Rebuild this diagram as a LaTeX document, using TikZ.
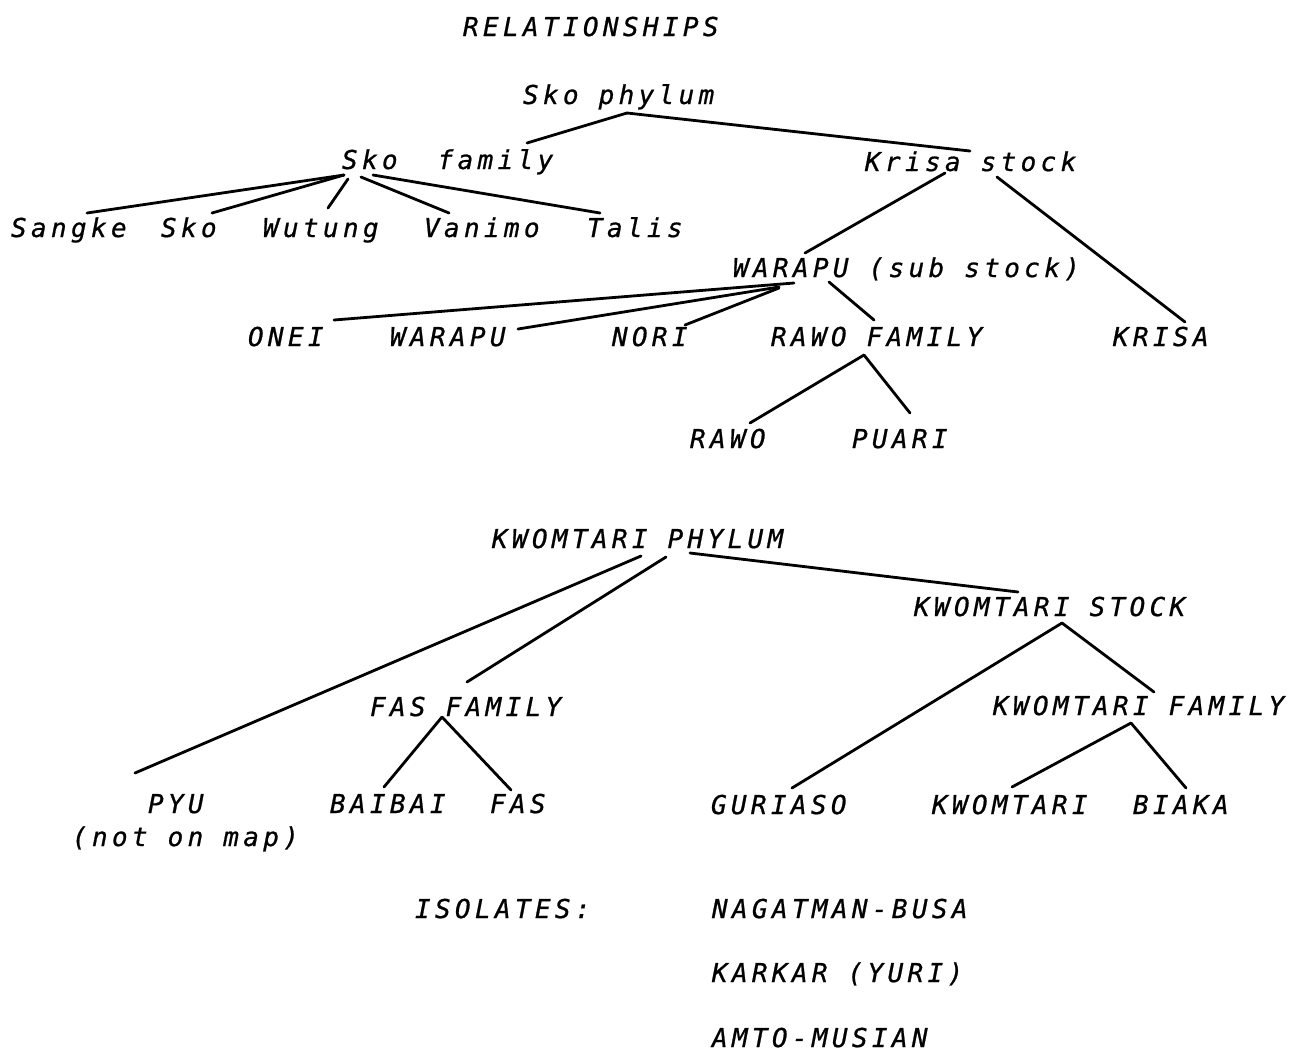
\documentclass[tikz,border=0pt]{standalone}
\usepackage{fontspec}
\newfontfamily\tw{DejaVu Sans Mono}[LetterSpace=16.7,FakeBold=0.8]
\begin{document}
\begin{tikzpicture}[x=0.5pt,y=-0.5pt,
  lbl/.style={anchor=base west,inner sep=0pt,outer sep=0pt,font=\tw\itshape\fontsize{13pt}{15pt}\selectfont},
  edge/.style={line width=1.4pt,line cap=round}]
\useasboundingbox[fill=white] (0,0) rectangle (1306,1057);
% labels
\node[lbl] (rel) at (463,36) {RELATIONSHIPS};
\node[lbl] (skophy) at (523,104) {Sko phylum};
\node[lbl] (skofam) at (342,169) {Sko\ \ family};
\node[lbl] (krisast) at (865,171) {Krisa stock};
\node[lbl] (sangke) at (11,237) {Sangke};
\node[lbl] (sko) at (161,237) {Sko};
\node[lbl] (wutung) at (263,237) {Wutung};
\node[lbl] (vanimo) at (424,237) {Vanimo};
\node[lbl] (talis) at (587,237) {Talis};
\node[lbl] (warsub) at (733,277) {WARAPU (sub stock)};
\node[lbl] (onei) at (248,346) {ONEI};
\node[lbl] (warapu) at (390,346) {WARAPU};
\node[lbl] (nori) at (612,346) {NORI};
\node[lbl] (rawofam) at (771,346) {RAWO FAMILY};
\node[lbl] (krisa) at (1113,346) {KRISA};
\node[lbl] (rawo) at (690,448) {RAWO};
\node[lbl] (puari) at (852,448) {PUARI};
\node[lbl] (kwphy) at (492,548) {KWOMTARI PHYLUM};
\node[lbl] (kwstock) at (914,616) {KWOMTARI STOCK};
\node[lbl] (fasfam) at (370,716) {FAS FAMILY};
\node[lbl] (kwfam) at (993,715) {KWOMTARI FAMILY};
\node[lbl] (pyu) at (148,813) {PYU};
\node[lbl] (notmap) at (72,846) {(not on map)};
\node[lbl] (baibai) at (330,813) {BAIBAI};
\node[lbl] (fas) at (490,813) {FAS};
\node[lbl] (guriaso) at (711,814) {GURIASO};
\node[lbl] (kwomtari) at (932,814) {KWOMTARI};
\node[lbl] (biaka) at (1133,814) {BIAKA};
\node[lbl] (isol) at (415,918) {ISOLATES:};
\node[lbl] (nag) at (712,918) {NAGATMAN-BUSA};
\node[lbl] (kar) at (712,982) {KARKAR (YURI)};
\node[lbl] (amto) at (712,1047) {AMTO-MUSIAN};
% connectors
\draw[edge] ([shift={(104,9)}]skophy.base west) -- ([shift={(185,-26)}]skofam.base west);
\draw[edge] ([shift={(104,9)}]skophy.base west) -- ([shift={(105,-20)}]krisast.base west);
\draw[edge] ([shift={(2,6)}]skofam.base west) -- ([shift={(76,-24)}]sangke.base west);
\draw[edge] ([shift={(2,6)}]skofam.base west) -- ([shift={(51,-24)}]sko.base west);
\draw[edge] ([shift={(6,10)}]skofam.base west) -- ([shift={(65,-29)}]wutung.base west);
\draw[edge] ([shift={(19,8)}]skofam.base west) -- ([shift={(25,-24)}]vanimo.base west);
\draw[edge] ([shift={(31,6)}]skofam.base west) -- ([shift={(13,-24)}]talis.base west);
\draw[edge] ([shift={(80,2)}]krisast.base west) -- ([shift={(72,-24)}]warsub.base west);
\draw[edge] ([shift={(132,6)}]krisast.base west) -- ([shift={(72,-24)}]krisa.base west);
\draw[edge] ([shift={(61,6)}]warsub.base west) -- ([shift={(86,-26)}]onei.base west);
\draw[edge] ([shift={(46,10)}]warsub.base west) -- ([shift={(128,-17)}]warapu.base west);
\draw[edge] ([shift={(46,11)}]warsub.base west) -- ([shift={(73,-21)}]nori.base west);
\draw[edge] ([shift={(96,5)}]warsub.base west) -- ([shift={(103,-26)}]rawofam.base west);
\draw[edge] ([shift={(93,9)}]rawofam.base west) -- ([shift={(60,-25)}]rawo.base west);
\draw[edge] ([shift={(93,9)}]rawofam.base west) -- ([shift={(58,-35)}]puari.base west);
\draw[edge] ([shift={(149,8)}]kwphy.base west) -- ([shift={(-13,-40)}]pyu.base west);
\draw[edge] ([shift={(174,9)}]kwphy.base west) -- ([shift={(97,-34)}]fasfam.base west);
\draw[edge] ([shift={(198,5)}]kwphy.base west) -- ([shift={(104,-24)}]kwstock.base west);
\draw[edge] ([shift={(72,1)}]fasfam.base west) -- ([shift={(54,-26)}]baibai.base west);
\draw[edge] ([shift={(72,1)}]fasfam.base west) -- ([shift={(21,-23)}]fas.base west);
\draw[edge] ([shift={(148,7)}]kwstock.base west) -- ([shift={(81,-26)}]guriaso.base west);
\draw[edge] ([shift={(148,7)}]kwstock.base west) -- ([shift={(161,-23)}]kwfam.base west);
\draw[edge] ([shift={(138,8)}]kwfam.base west) -- ([shift={(80,-27)}]kwomtari.base west);
\draw[edge] ([shift={(138,8)}]kwfam.base west) -- ([shift={(53,-26)}]biaka.base west);
\end{tikzpicture}
\end{document}
